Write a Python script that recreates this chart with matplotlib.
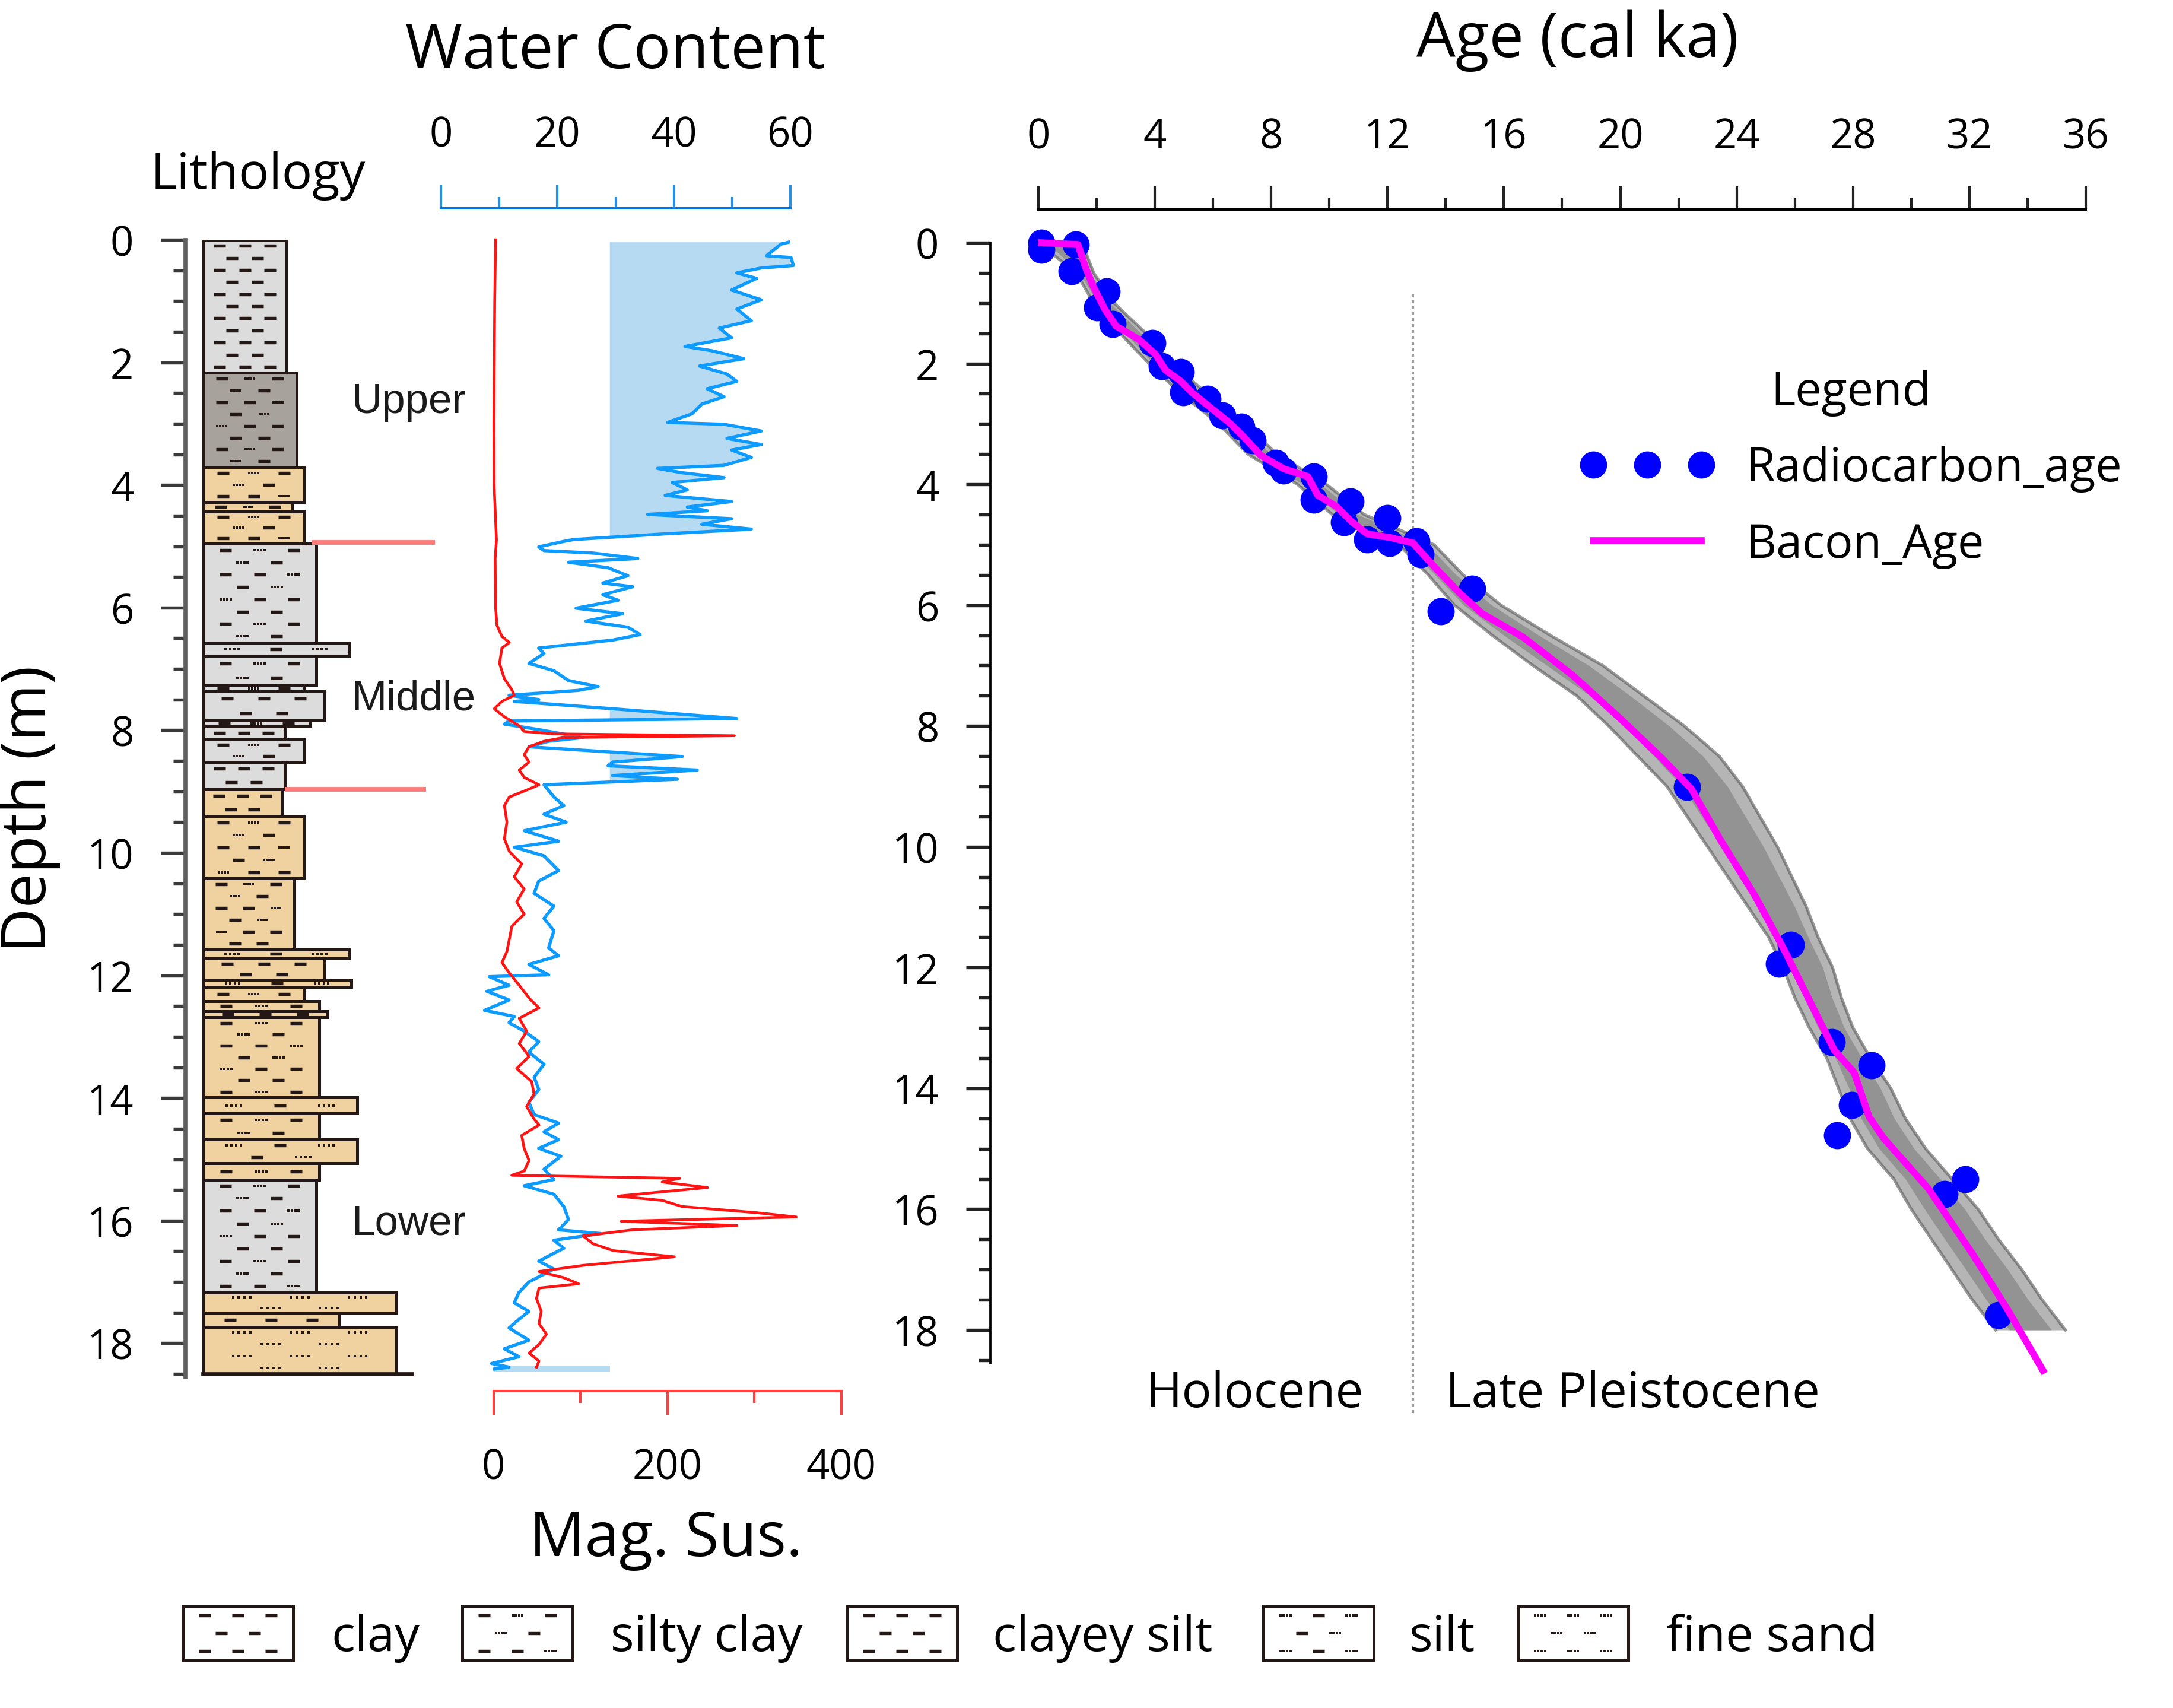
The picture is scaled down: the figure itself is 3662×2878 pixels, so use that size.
import numpy as np
import matplotlib.pyplot as plt
from matplotlib.patches import Rectangle
from matplotlib.ticker import MultipleLocator

plt.rcParams['font.family'] = ['Open Sans', 'DejaVu Sans']

# ---------------- data ----------------
# lithology column (depth in m, width = grain-size class width)
lith_top = [0.00, 2.17, 3.71, 4.28, 4.43, 4.96, 6.57, 6.79, 7.26, 7.37, 7.84, 7.94, 8.14, 8.52,
            8.96, 9.40, 10.42, 11.58, 11.72, 12.07, 12.19, 12.42, 12.58, 12.68, 13.99, 14.25,
            14.68, 15.06, 15.33, 17.17, 17.51, 17.73]
lith_bot = lith_top[1:] + [18.50]
lith_width = [141, 158, 171, 151, 171, 191, 246, 191, 171, 205, 180, 138, 171, 138,
              133, 171, 154, 246, 205, 250, 171, 196, 210, 196, 260, 196,
              260, 196, 191, 326, 230, 326]
lith_color = ['g', 'd', 't', 't', 't', 'g', 'g', 'g', 'g', 'g', 'g', 'g', 'g', 'g',
              't', 't', 't', 't', 't', 't', 't', 't', 't', 't', 't', 't',
              't', 't', 'g', 't', 't', 't']
lith_kind = ['clay', 'silty', 'silty', 'silty', 'silty', 'silty', 'silt', 'silty', 'silty', 'csilt',
             'silty', 'clay', 'silty', 'clay', 'clay', 'silty', 'silty', 'silt', 'csilt', 'silt',
             'silty', 'silty', 'csilt', 'silty', 'silt', 'silty', 'silt', 'silty', 'silty', 'sand',
             'csilt', 'sand']

unit_names = ['Upper', 'Middle', 'Lower']
unit_label_depth = [2.64, 7.49, 16.05]
unit_bounds = [4.94, 8.96]

# water content (%)
wc_depth = [0.04, 0.07, 0.26, 0.29, 0.42, 0.46, 0.54, 0.63, 0.82, 0.98, 1.13, 1.32, 1.44, 1.60,
            1.74, 1.81, 1.94, 2.06, 2.19, 2.31, 2.43, 2.56, 2.68, 2.84, 2.98, 3.01, 3.12, 3.24,
            3.34, 3.43, 3.55, 3.68, 3.73, 3.80, 3.88, 3.96, 4.08, 4.17, 4.27, 4.36, 4.42, 4.48,
            4.55, 4.64, 4.72, 4.80, 4.89, 4.92, 5.01, 5.07, 5.11, 5.20, 5.26, 5.35, 5.48, 5.60,
            5.66, 5.79, 5.88, 6.01, 6.10, 6.22, 6.32, 6.44, 6.53, 6.66, 6.75, 6.91, 7.03, 7.19,
            7.29, 7.35, 7.43, 7.50, 7.53, 7.65, 7.81, 7.85, 7.90, 7.99, 8.12, 8.18, 8.27, 8.43,
            8.52, 8.58, 8.65, 8.74, 8.80, 8.89, 9.09, 9.23, 9.37, 9.50, 9.64, 9.81, 9.91, 10.05,
            10.29, 10.46, 10.66, 10.87, 11.07, 11.27, 11.55, 11.68, 11.82, 11.99, 12.02, 12.16,
            12.26, 12.40, 12.57, 12.67, 12.77, 12.91, 13.08, 13.25, 13.45, 13.66, 13.86, 14.07,
            14.27, 14.41, 14.55, 14.68, 14.82, 14.95, 15.16, 15.33, 15.43, 15.57, 15.77, 15.98,
            16.15, 16.21, 16.32, 16.45, 16.66, 16.79, 17.00, 17.17, 17.34, 17.48, 17.61, 17.75,
            17.95, 18.09, 18.22, 18.33, 18.39, 18.42]
wc_vals = [59.7, 58.4, 55.9, 60.1, 60.5, 55.0, 50.8, 54.2, 49.9, 55.0, 50.8, 53.3, 47.8, 49.9,
           41.9, 46.5, 52.0, 44.4, 49.1, 50.8, 45.7, 48.6, 44.8, 43.1, 38.9, 48.6, 55.0, 49.1,
           55.0, 49.9, 53.3, 48.6, 37.2, 41.4, 48.6, 39.7, 42.3, 38.5, 49.9, 42.3, 45.7, 35.5,
           49.9, 44.8, 53.3, 38.0, 22.8, 21.1, 16.8, 17.7, 26.1, 33.8, 21.9, 28.7, 32.1, 27.8,
           32.9, 27.8, 30.4, 23.2, 31.2, 24.9, 32.1, 34.2, 29.5, 16.8, 17.7, 15.1, 19.4, 21.9,
           27.0, 23.6, 11.7, 16.8, 12.6, 29.5, 50.8, 11.7, 10.9, 16.8, 24.4, 18.5, 15.1, 41.4,
           29.5, 28.7, 44.0, 29.5, 40.6, 17.7, 19.4, 21.1, 17.7, 21.5, 14.3, 20.2, 12.6, 17.7,
           20.2, 16.8, 16.0, 19.4, 17.7, 19.4, 18.5, 20.2, 15.1, 18.5, 8.3, 11.7,
           7.9, 11.7, 7.5, 12.6, 11.7, 14.3, 16.8, 15.1, 17.7, 16.0, 16.8, 15.1,
           16.0, 20.2, 17.7, 20.2, 16.8, 20.6, 17.7, 19.4, 14.3, 19.4, 21.1, 21.9,
           20.2, 27.4, 19.4, 21.1, 16.8, 19.4, 15.1, 13.4, 12.6, 15.1, 13.4, 11.7,
           15.1, 10.9, 13.4, 8.7, 11.7, 9.2]
wc_fill_base = 29.0
wc_fill_zones = [(0.0, 4.85), (7.6, 7.95), (8.3, 8.95)]

# magnetic susceptibility
ms_depth = [0.00, 1.00, 2.00, 3.00, 4.00, 4.90, 5.20, 6.00, 6.29, 6.47, 6.57, 6.66, 6.91, 7.16,
            7.34, 7.43, 7.53, 7.65, 7.78, 7.93, 8.02, 8.06, 8.09, 8.12, 8.18, 8.27, 8.40, 8.52,
            8.65, 8.77, 8.89, 8.96, 9.09, 9.23, 9.50, 9.77, 9.98, 10.18, 10.39, 10.59, 10.80,
            11.00, 11.20, 11.41, 11.61, 11.79, 11.96, 12.16, 12.37, 12.53, 12.70, 12.91, 13.11,
            13.32, 13.52, 13.73, 13.93, 14.14, 14.34, 14.44, 14.61, 14.82, 15.02, 15.19, 15.26,
            15.31, 15.37, 15.46, 15.60, 15.67, 15.77, 15.87, 15.94, 16.01, 16.08, 16.15, 16.25,
            16.38, 16.49, 16.59, 16.73, 16.83, 16.93, 17.03, 17.10, 17.27, 17.48, 17.68, 17.85,
            18.02, 18.16, 18.29, 18.39]
ms_vals = [2.5, 1.5, 1.0, 0.5, 0.8, 3.5, 2.0, 2.5, 4.1, 9.8, 18.3, 9.8, 7.0, 12.6,
           21.1, 24.0, 9.8, 1.0, 12.6, 29.7, 35.3, 69.4, 277, 80.8, 58.1, 41.0, 35.3, 41.0,
           29.7, 35.3, 52.4, 41.0, 18.3, 12.6, 15.5, 12.6, 18.3, 32.5, 24.0, 35.3, 26.8,
           35.3, 21.1, 18.3, 15.5, 9.8, 18.3, 29.7, 41.0, 52.4, 29.7, 38.2, 29.7,
           41.0, 26.8, 43.9, 46.7, 38.2, 46.7, 52.4, 32.5, 35.3, 41.0, 35.3, 21.1,
           214, 194, 246, 143, 194, 217, 302, 348, 147, 280, 160, 103,
           115, 138, 208, 103, 52.4, 80.8, 98, 52.4, 49.5, 55, 52.4, 61,
           52.4, 41.0, 52.4, 49.5]

# age-depth model
rc_age = [0.10, 0.10, 1.28, 1.15, 2.35, 2.01, 2.54, 3.92, 4.24, 4.89, 4.97, 5.81, 6.33, 6.98,
          7.37, 8.16, 8.42, 9.47, 9.47, 10.72, 10.51, 11.30, 12.00, 12.08, 13.00, 13.13, 14.91,
          13.83, 22.29, 25.86, 25.45, 27.27, 28.64, 27.96, 27.45, 31.14, 31.86, 33.00]
rc_depth = [0.00, 0.12, 0.03, 0.47, 0.81, 1.07, 1.35, 1.66, 2.04, 2.14, 2.48, 2.58, 2.86, 3.05,
            3.27, 3.65, 3.77, 3.87, 4.25, 4.28, 4.63, 4.91, 4.56, 4.97, 4.94, 5.16, 5.73,
            6.10, 9.01, 11.62, 11.94, 13.23, 13.62, 14.28, 14.78, 15.75, 15.50, 17.75]

bacon_age = [0.10, 1.36, 1.62, 1.88, 2.28, 2.67, 3.45, 4.03, 4.37, 4.89, 5.28, 5.94, 6.59, 7.11,
             7.64, 8.42, 9.26, 9.60, 10.25, 10.77, 11.30, 12.08, 12.87, 13.52, 14.50, 15.25,
             16.66, 18.36, 20.05, 21.42, 22.44, 23.46, 24.64, 25.66, 26.60, 27.36, 28.04, 28.55,
             29.06, 30.59, 32.12, 33.31, 34.53]
bacon_depth = [0.00, 0.03, 0.41, 0.72, 1.10, 1.38, 1.60, 1.85, 2.11, 2.29, 2.48, 2.74, 2.99, 3.24,
               3.52, 3.74, 3.87, 4.18, 4.37, 4.62, 4.82, 4.88, 4.97, 5.32, 5.81, 6.14,
               6.53, 7.16, 7.90, 8.53, 9.04, 9.90, 10.82, 11.73, 12.64, 13.37, 13.74, 14.47,
               14.83, 15.66, 16.75, 17.66, 18.67]

env_depth = [0.0, 0.5, 1.0, 1.5, 2.0, 2.5, 3.0, 3.5, 4.0, 4.5, 5.0, 5.5, 6.0, 6.5, 7.0, 7.5, 8.0,
             8.5, 9.0, 9.5, 10.0, 10.5, 11.0, 11.5, 12.0, 12.5, 13.0, 13.5, 14.0, 14.5, 15.0,
             15.5, 16.0, 16.5, 17.0, 17.5, 18.0]
env_lo = [0.0, 1.3, 1.9, 2.8, 3.8, 4.9, 6.2, 7.2, 8.9, 10.1, 12.4, 13.4, 14.3, 15.6, 17.0, 18.5,
          19.6, 20.6, 21.6, 22.3, 23.0, 23.7, 24.4, 25.1, 25.6, 26.0, 26.5, 27.1, 27.5, 27.9,
          28.5, 29.4, 30.0, 30.7, 31.4, 32.1, 32.9]
env_hi = [1.5, 1.9, 2.6, 3.7, 4.6, 5.8, 7.1, 8.2, 9.9, 11.2, 13.6, 14.6, 15.9, 17.6, 19.4, 20.8,
          22.2, 23.4, 24.2, 24.8, 25.4, 25.9, 26.4, 26.8, 27.3, 27.6, 28.0, 28.6, 29.3, 29.8,
          30.5, 31.4, 32.3, 33.0, 33.8, 34.5, 35.3]

holocene_boundary = 12.88

leg_names = ['clay', 'silty clay', 'clayey silt', 'silt', 'fine sand']
leg_kinds = ['clay', 'silty', 'csilt', 'silt', 'sand']

# ---------------- figure ----------------
W, H, DPI = 3662, 2879, 300
fig = plt.figure(figsize=(W / DPI, H / DPI), dpi=DPI)


def fx(px):
    return px / W


def fy(py):
    return 1 - py / H


# full-figure pixel axes for free text and the bottom key
lay = fig.add_axes([0, 0, 1, 1])
lay.set_xlim(0, W)
lay.set_ylim(H, 0)
lay.axis('off')

DMAX = 18.55
TICK_FS = 16.5
INK = '#231815'
fill_colors = {'g': '#dcdcdc', 'd': '#a8a29d', 't': '#efd29f'}


def left_rect(x0, x1, top=405, per_m=103.3):
    bot = top + DMAX * per_m
    return [fx(x0), fy(bot), (x1 - x0) / W, (bot - top) / H]


def hide_spines(ax, keep=()):
    for s in ['left', 'right', 'top', 'bottom']:
        ax.spines[s].set_visible(s in keep)
    ax.patch.set_visible(False)


def depth_ticks(ax, color):
    ax.set_ylim(DMAX, 0)
    ax.yaxis.set_major_locator(MultipleLocator(2))
    ax.yaxis.set_minor_locator(MultipleLocator(0.5))
    ax.tick_params(axis='y', which='major', length=9.8, width=1.3, color=color,
                   pad=11, labelsize=TICK_FS)
    ax.tick_params(axis='y', which='minor', length=4.8, width=1.3, color=color)


def litho_marks(x0, x1, y0, y1, kind, step):
    n = max(1, int(round(abs(y1 - y0) / step)))
    rows = y0 + (np.arange(n) + 0.5) * (y1 - y0) / n
    w = x1 - x0
    dash_x, dash_y, dot_x, dot_y = [], [], [], []
    for i, yy in enumerate(rows):
        cols = [0.2, 0.5, 0.8] if i % 2 == 0 else [0.35, 0.65]
        for j, c in enumerate(cols):
            xx = x0 + c * w
            if kind == 'sand':
                use_dot = True
            elif kind == 'silt':
                use_dot = (i + j) % 2 == 0
            elif kind == 'silty':
                use_dot = (i + j) % 3 == 1
            else:
                use_dot = False
            if use_dot:
                for k in (-1.5, -0.5, 0.5, 1.5):
                    dot_x.append(xx + k * w * 0.03)
                    dot_y.append(yy)
            else:
                dash_x.append(xx)
                dash_y.append(yy)
    return dash_x, dash_y, dot_x, dot_y


def draw_marks(ax, marks):
    dx, dy, px, py = marks
    ax.plot(dx, dy, ls='none', marker='_', ms=5, mew=1.3, color=INK, zorder=3)
    ax.plot(px, py, ls='none', marker='s', ms=1.1, mew=0, color=INK, zorder=3)


# ---- lithology column with depth axis ----
ax_lith = fig.add_axes(left_rect(312, 698))
hide_spines(ax_lith, keep=('left',))
ax_lith.spines['left'].set_color('#5f5f5f')
ax_lith.spines['left'].set_linewidth(1.6)
ax_lith.set_xlim(-30, 356)
ax_lith.set_xticks([])
depth_ticks(ax_lith, '#3a3a3a')

for top, bot, w, c, kind in zip(lith_top, lith_bot, lith_width, lith_color, lith_kind):
    ax_lith.add_patch(Rectangle((0, top), w, bot - top, facecolor=fill_colors[c],
                                edgecolor=INK, lw=1.2, zorder=2))
    draw_marks(ax_lith, litho_marks(0, w, top, bot, kind, 0.2))

ax_lith.axhline(lith_bot[-1], xmin=30 / 386, xmax=1, color=INK, lw=1.6, zorder=4)
bl = ax_lith.hlines(unit_bounds, [183, 138], [391, 376], color='#ff7b7b', lw=1.9, zorder=4)
bl.set_clip_on(False)

for name, d in zip(unit_names, unit_label_depth):
    ax_lith.text(250, d, name, fontfamily=['Liberation Sans'], fontsize=17,
                 va='center', ha='left', color='#1a1a1a')

# ---- water content ----
ax_wc = fig.add_axes(left_rect(743, 1332))
hide_spines(ax_wc, keep=('top',))
ax_wc.set_xlim(0, 60)
ax_wc.set_ylim(DMAX, 0)
ax_wc.set_yticks([])
ax_wc.spines['top'].set_position(('outward', 12.7))
ax_wc.spines['top'].set_color('#0a72d8')
ax_wc.spines['top'].set_linewidth(1.0)
ax_wc.xaxis.tick_top()
ax_wc.xaxis.set_major_locator(MultipleLocator(20))
ax_wc.xaxis.set_minor_locator(MultipleLocator(10))
ax_wc.tick_params(axis='x', which='major', length=9.4, width=1.0, color='#2b8fe0',
                  pad=11.5, labelsize=TICK_FS)
ax_wc.tick_params(axis='x', which='minor', length=4.6, width=1.0, color='#2b8fe0')

wd = np.array(wc_depth)
wv = np.array(wc_vals)
zone = np.zeros(len(wd), bool)
for a, b in wc_fill_zones:
    zone |= (wd >= a) & (wd <= b)
ax_wc.fill_betweenx(wd, wc_fill_base, wv, where=zone & (wv > wc_fill_base),
                    interpolate=True, color='#b7daf3', lw=0, zorder=1)
ax_wc.plot([wv[-1], wc_fill_base], [wd[-1], wd[-1]], color='#b7daf3', lw=2.4,
           solid_capstyle='butt', zorder=1)
ax_wc.plot(wv, wd, color='#0d9bff', lw=1.3, zorder=3, clip_on=False)

# ---- magnetic susceptibility ----
ax_ms = fig.add_axes(left_rect(831.5, 1418))
hide_spines(ax_ms, keep=('bottom',))
ax_ms.set_xlim(0, 400)
ax_ms.set_ylim(DMAX, 0)
ax_ms.set_yticks([])
ax_ms.spines['bottom'].set_position(('outward', 5.8))
ax_ms.spines['bottom'].set_color('#ff4040')
ax_ms.spines['bottom'].set_linewidth(1.0)
ax_ms.xaxis.set_major_locator(MultipleLocator(200))
ax_ms.xaxis.set_minor_locator(MultipleLocator(100))
ax_ms.tick_params(axis='x', which='major', length=9.6, width=1.0, color='#ff4040',
                  pad=13, labelsize=TICK_FS)
ax_ms.tick_params(axis='x', which='minor', length=4.8, width=1.0, color='#ff4040')
ax_ms.plot(ms_vals, ms_depth, color='#ff1414', lw=1.1, zorder=4, clip_on=False)

# ---- age-depth model ----
ax_age = fig.add_axes([fx(1669), fy(2298), (3515 - 1669) / W, (2298 - 410) / H])
hide_spines(ax_age, keep=('left', 'top'))
ax_age.set_xlim(-81 / 49.03, 36)
depth_ticks(ax_age, '#222222')
ax_age.spines['left'].set_linewidth(0.9)
ax_age.spines['top'].set_linewidth(1.0)
ax_age.spines['top'].set_position(('outward', 13.4))
ax_age.spines['top'].set_bounds(0, 36)
ax_age.xaxis.tick_top()
ax_age.xaxis.set_major_locator(MultipleLocator(4))
ax_age.xaxis.set_minor_locator(MultipleLocator(2))
ax_age.tick_params(axis='x', which='major', length=9.4, width=1.0, color='#222222',
                   pad=11.5, labelsize=TICK_FS)
ax_age.tick_params(axis='x', which='minor', length=4.6, width=1.0, color='#222222')

ea = np.array(env_lo)
eb = np.array(env_hi)
mid = (ea + eb) / 2
ax_age.fill_betweenx(env_depth, ea, eb, color='#858585', alpha=0.6, lw=0, zorder=1)
ax_age.fill_betweenx(env_depth, mid - (eb - ea) * 0.3, mid + (eb - ea) * 0.3,
                     color='#6a6a6a', alpha=0.45, lw=0, zorder=1)
ax_age.plot(env_lo, env_depth, color='#555555', lw=1.2, alpha=0.6, zorder=1)
ax_age.plot(env_hi, env_depth, color='#555555', lw=1.2, alpha=0.6, zorder=1)

ax_age.plot([holocene_boundary, holocene_boundary], [0.85, 19.38], color='#9a9a9a',
            lw=1.0, ls=(0, (1.2, 1.2)), zorder=0, clip_on=False)

h_pts, = ax_age.plot(rc_age, rc_depth, 'o', color='#0000ff', ms=11, mew=0,
                     label='Radiocarbon_age', zorder=3, clip_on=False)
h_line, = ax_age.plot(bacon_age, bacon_depth, color='#ff00ff', lw=2.8,
                      label='Bacon_Age', zorder=4, clip_on=False)

ax_age.text(7.43, 19.27, 'Holocene', ha='center', va='baseline', fontsize=20)
ax_age.text(14.0, 19.27, 'Late Pleistocene', ha='left', va='baseline', fontsize=20)

leg = ax_age.legend(handles=[h_pts, h_line], title='Legend', numpoints=3, frameon=False,
                    loc='upper left', bbox_to_anchor=(fx(2598), fy(560)),
                    bbox_transform=fig.transFigure, fontsize=19, title_fontsize=19,
                    handlelength=2.9, handletextpad=0.65, labelspacing=0.62, borderpad=0.3)

# ---- titles ----
lay.text(1037, 115, 'Water Content', ha='center', va='baseline', fontsize=25)
lay.text(2658, 96, 'Age (cal ka)', ha='center', va='baseline', fontsize=25)
lay.text(435, 318, 'Lithology', ha='center', va='baseline', fontsize=20.5)
lay.text(1122, 2622, 'Mag. Sus.', ha='center', va='baseline', fontsize=25)
lay.text(50, 1363, 'Depth (m)', ha='center', va='center', rotation=90, fontsize=25)

# ---- bottom lithology key ----
box_x = [308, 779, 1427, 2129, 2558]
text_x = [558, 1029, 1673, 2375, 2808]
for bx, tx, name, kind in zip(box_x, text_x, leg_names, leg_kinds):
    lay.add_patch(Rectangle((bx, 2708), 186, 90, facecolor='white', edgecolor=INK, lw=1.2))
    draw_marks(lay, litho_marks(bx, bx + 186, 2708, 2798, kind, 30))
    lay.text(tx, 2782, name, ha='left', va='baseline', fontsize=20)

fig.savefig('out.png', dpi=DPI)
